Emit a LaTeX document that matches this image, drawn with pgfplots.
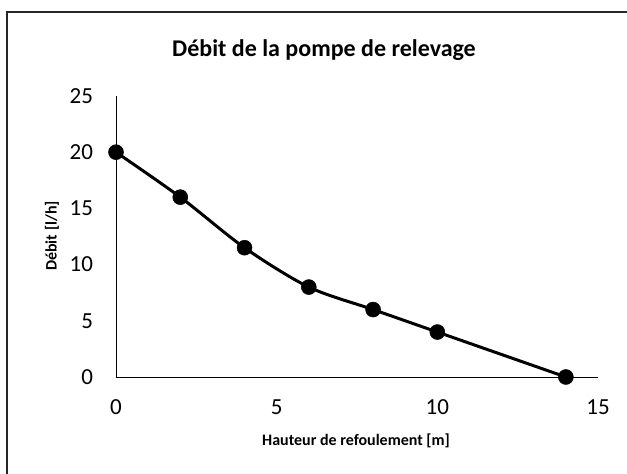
\documentclass[border=0pt]{standalone}
\usepackage{fontspec}
\setmainfont{Carlito}
\usepackage{pgfplots}
\pgfplotsset{compat=1.18}
\begin{document}
\begin{tikzpicture}[x=1bp,y=1bp]
\useasboundingbox (0,0) rectangle (627,474);
\fill[white] (0,0) rectangle (627,474);
\draw[line width=1.3bp, black!85] (7,-20) -- (7,462) -- (660,462);
\begin{axis}[
  at={(116bp,97bp)}, anchor=south west,
  scale only axis, width=482bp, height=281bp,
  xmin=0, xmax=15, ymin=0, ymax=25,
  axis x line=bottom, axis y line=left,
  axis line style={-, line width=0.9bp, black},
  xtick={0,5,10,15}, ytick={0,5,10,15,20,25},
  major tick length=0pt,
  /pgf/number format/assume math mode=true,
  tick label style={font=\fontsize{23bp}{27bp}\selectfont},
  xticklabel style={anchor=center, yshift=-30bp},
  yticklabel style={anchor=east, xshift=-19.5bp},
  clip=false,
]
\addplot[black, line width=3bp, smooth, tension=0.5, mark=*, mark size=7.5bp, mark options={fill=black, line width=0.5bp}]
  coordinates {(0,20) (2,16) (4,11.5) (6,8) (8,6) (10,4) (14,0)};
\end{axis}
\node[font=\fontsize{24bp}{28bp}\selectfont\bfseries, anchor=base] at (324,417) {Débit de la pompe de relevage};
\node[font=\fontsize{16bp}{19bp}\selectfont\bfseries] at (356,33) {Hauteur de refoulement [m]};
\node[font=\fontsize{16bp}{19bp}\selectfont\bfseries, rotate=90] at (52,238) {Débit [l/h]};
\end{tikzpicture}
\end{document}
